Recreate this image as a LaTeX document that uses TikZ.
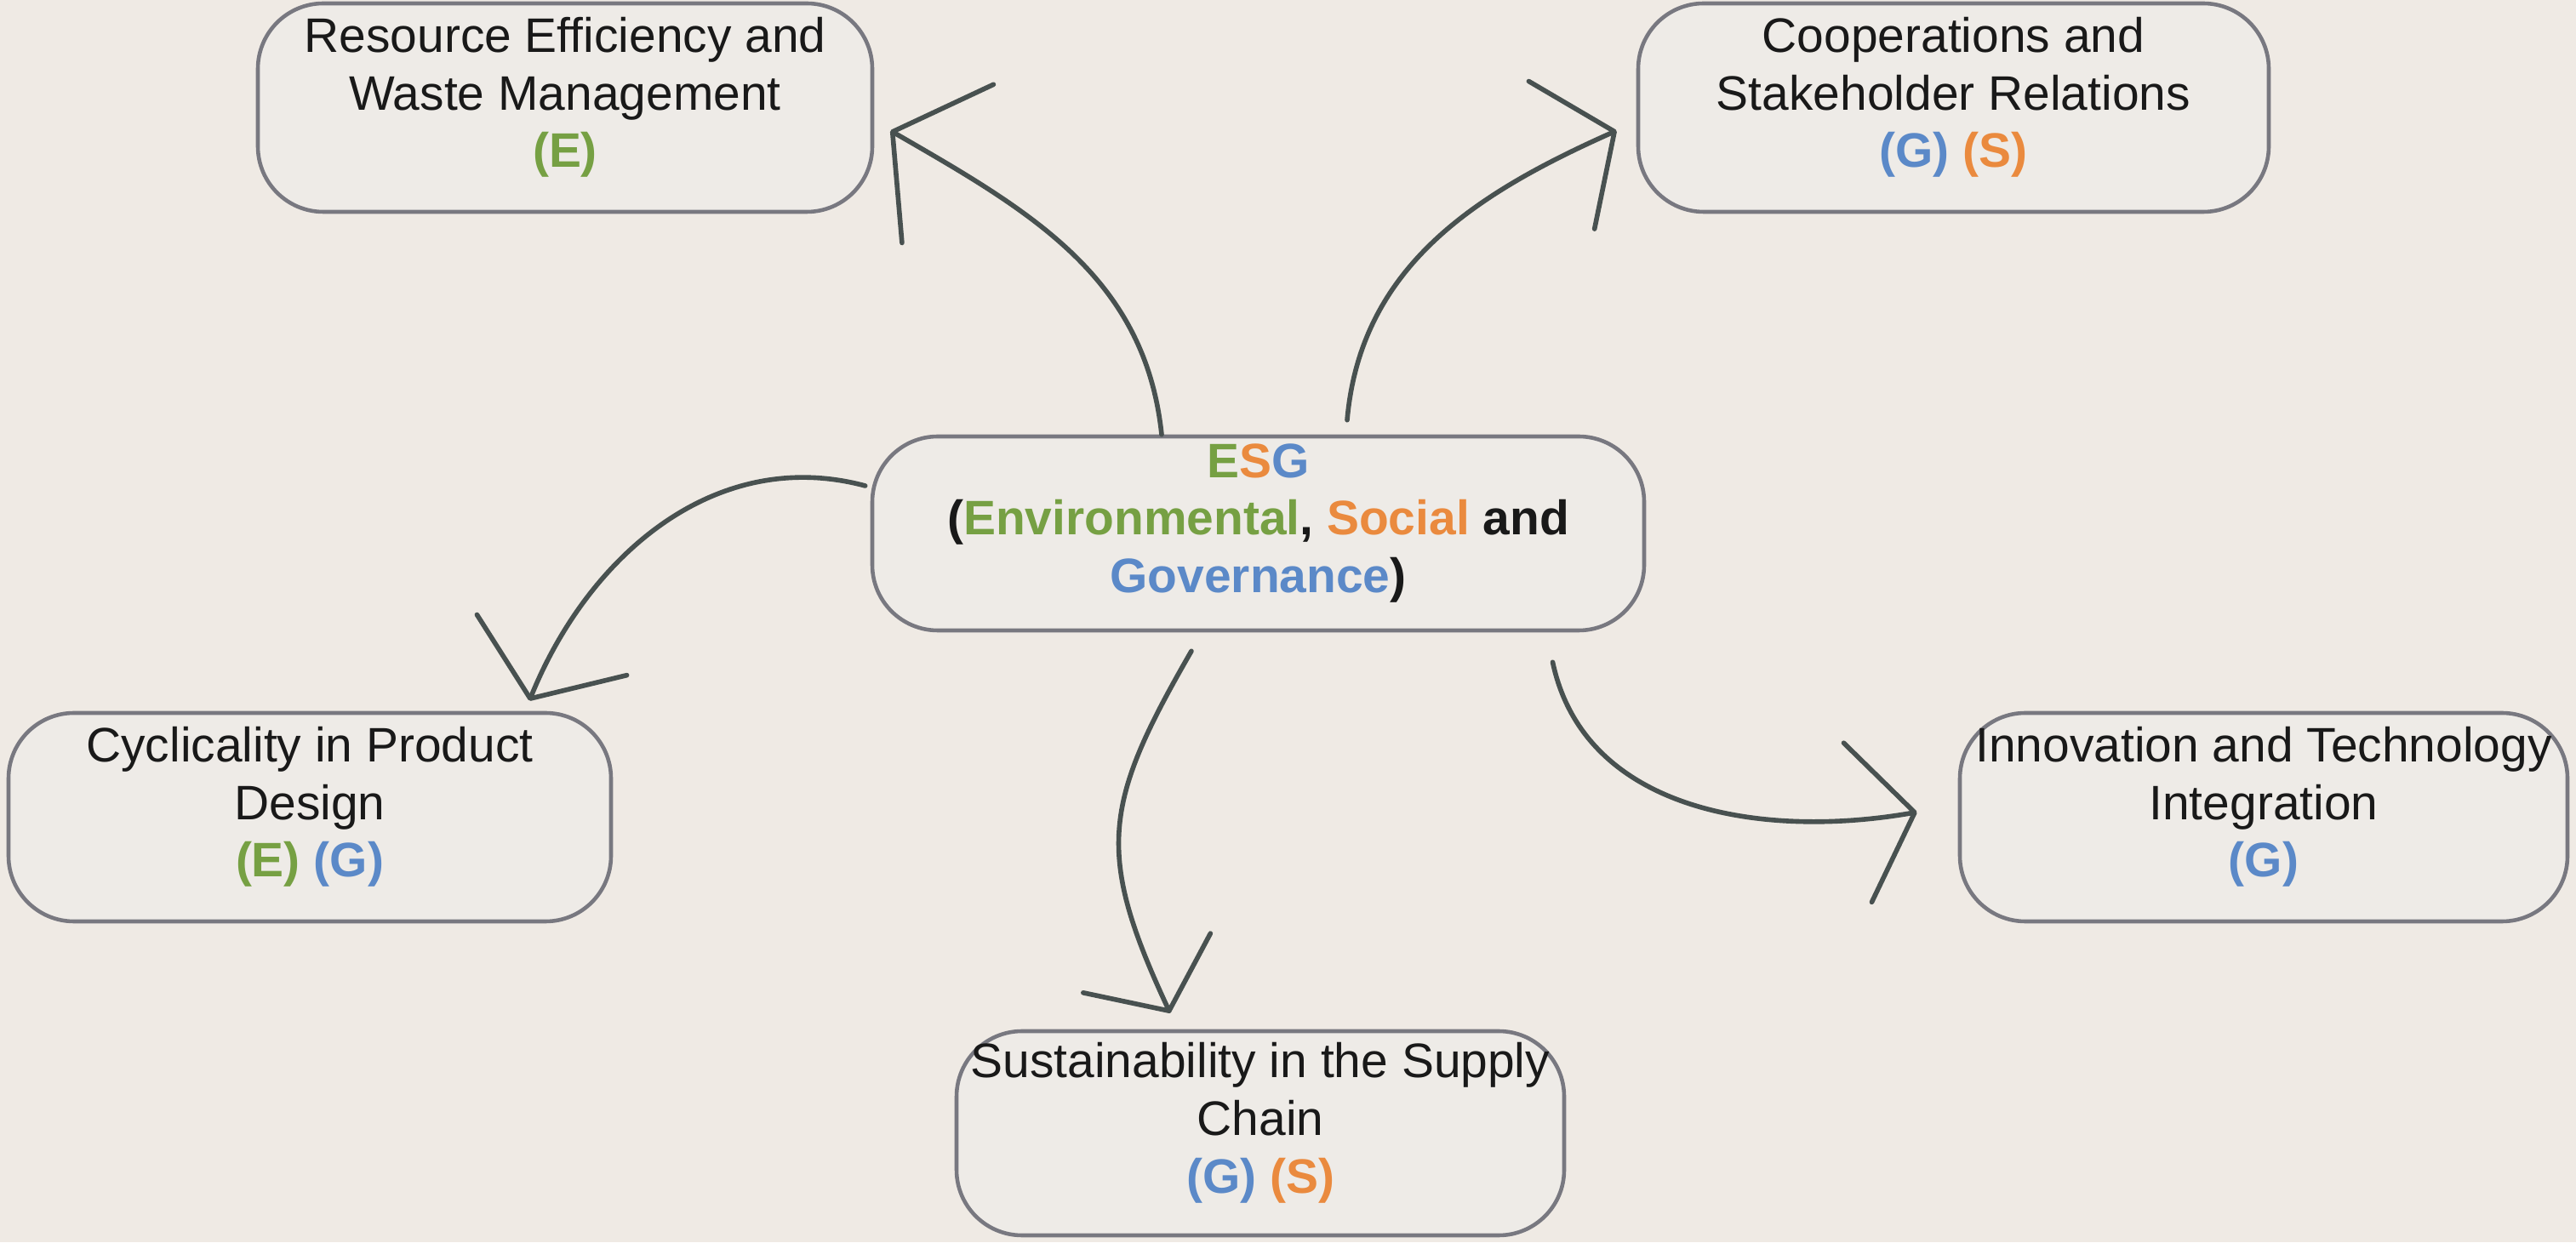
\documentclass[tikz,border=0pt]{standalone}
\usepackage{fontspec}
\setmainfont{Liberation Sans}
\usepackage{tikz}
\usetikzlibrary{arrows.meta}

\definecolor{bgcol}{HTML}{EFEAE4}
\definecolor{boxfill}{HTML}{EEEBE7}
\definecolor{boxline}{HTML}{787880}
\definecolor{arrcol}{HTML}{485150}
\definecolor{egreen}{HTML}{76A043}
\definecolor{sorange}{HTML}{EA8A3E}
\definecolor{gblue}{HTML}{5B89C8}

\newcommand{\envtag}{\textcolor{egreen}{\textbf{(E)}}}
\newcommand{\soctag}{\textcolor{sorange}{\textbf{(S)}}}
\newcommand{\govtag}{\textcolor{gblue}{\textbf{(G)}}}
\newcommand{\padbottom}{\rule[-0.36cm]{0pt}{0pt}}

\tikzset{
  box/.style={draw=boxline, line width=1.3pt, fill=boxfill, rounded corners=0.77cm,
    align=center, inner sep=0pt, minimum height=2.45cm, text=black!90,
    font=\fontsize{16.2}{19.3}\selectfont},
  arr/.style={draw=arrcol, line width=1.6pt, line cap=round,
    -{Straight Barb[round,length=0.68cm,width=1.9cm]}}
}

\begin{document}
\begin{tikzpicture}
\fill[bgcol] (0,0) rectangle (30.27,14.6);
\useasboundingbox (0,0) rectangle (30.27,14.6);
%  the ESG box in the middle
\node[box, minimum width=9.07cm, minimum height=2.28cm] (esg) at (14.785,8.33)
  {\textbf{\textcolor{egreen}{E}\textcolor{sorange}{S}\textcolor{gblue}{G}}\\
   \textbf{(\textcolor{egreen}{Environmental}, \textcolor{sorange}{Social} and}\\
   \textbf{\textcolor{gblue}{Governance})}\padbottom};
%  the five topics round it
\node[box, minimum width=7.22cm] (res) at (6.64,13.335)
  {Resource Efficiency and\\Waste Management\\\envtag\padbottom};
\node[box, minimum width=7.41cm] (coop) at (22.955,13.335)
  {Cooperations and\\Stakeholder Relations\\\govtag{} \soctag\padbottom};
\node[box, minimum width=7.08cm] (cyc) at (3.64,4.995)
  {Cyclicality in Product\\Design\\\envtag{} \govtag\padbottom};
\node[box, minimum width=7.14cm] (inn) at (26.60,4.995)
  {Innovation and Technology\\Integration\\\govtag\padbottom};
\node[box, minimum width=7.14cm, minimum height=2.40cm] (sus) at (14.81,1.28)
  {Sustainability in the Supply\\Chain\\\govtag{} \soctag\padbottom};
%  Now the arrows
\draw[arr, -{Straight Barb[round,length=0.75cm,width=2.15cm]}] ([xshift=-1.135cm]esg.north) to[out=96,in=-30] ([xshift=0.19cm,yshift=-0.27cm]res.east);
\draw[arr] ([xshift=1.045cm,yshift=0.17cm]esg.north) to[out=85,in=-156] ([xshift=-0.23cm,yshift=-0.27cm]coop.west);
\draw[arr] ([xshift=-0.06cm,yshift=0.56cm]esg.west) to[out=165,in=68] ([xshift=2.58cm,yshift=0.12cm]cyc.north);
\draw[arr, -{Straight Barb[round,length=0.62cm,width=1.65cm]}] ([xshift=-0.785cm,yshift=-0.22cm]esg.south) to[out=240,in=115,looseness=1.25] ([xshift=-1.06cm,yshift=0.19cm]sus.north);
\draw[arr] ([xshift=3.46cm,yshift=-0.35cm]esg.south) to[out=-78,in=190] ([xshift=-0.48cm,yshift=0.06cm]inn.west);
\end{tikzpicture}
\end{document}
